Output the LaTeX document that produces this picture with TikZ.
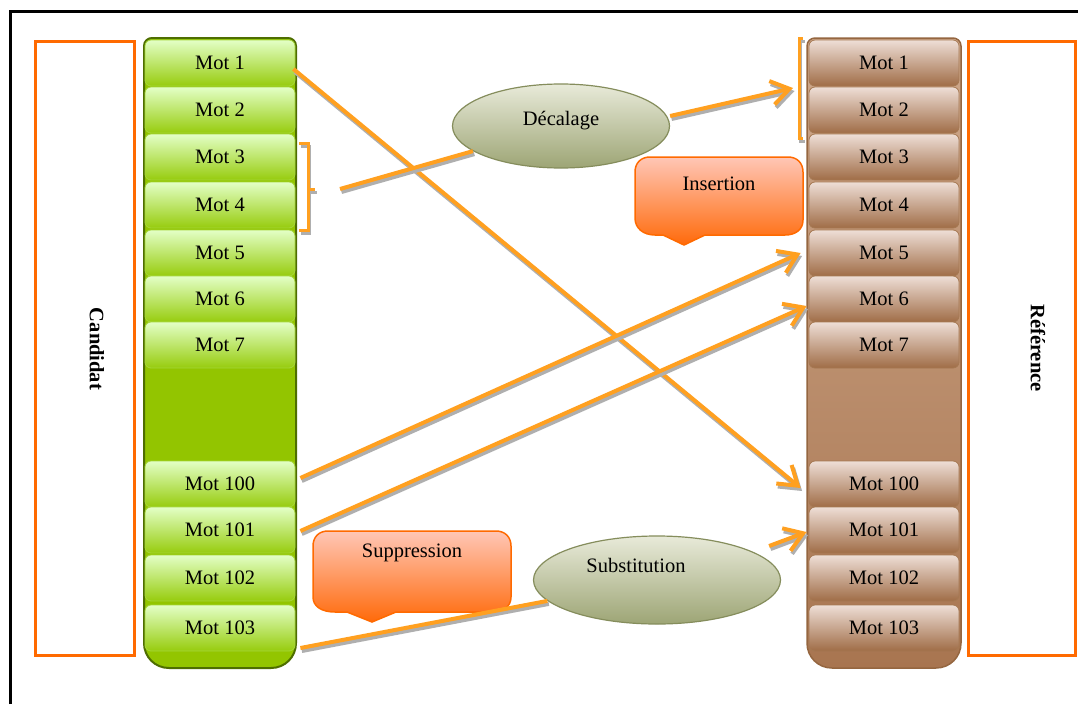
\documentclass[tikz,border=0pt]{standalone}
\usepackage{fontspec}
\setmainfont{Liberation Serif}
\usetikzlibrary{arrows.meta,shapes.geometric}
\definecolor{gtop}{HTML}{E3FFC6}
\definecolor{gmid}{HTML}{C3F06A}
\definecolor{gbot}{HTML}{97CC0E}
\definecolor{gedge}{HTML}{A6D63A}
\definecolor{gcolf}{HTML}{93C500}
\definecolor{gcold}{HTML}{4E6E00}
\definecolor{btop}{HTML}{EEDED6}
\definecolor{bmid}{HTML}{CCA68C}
\definecolor{bbot}{HTML}{A06D47}
\definecolor{bedge}{HTML}{A57852}
\definecolor{bcoltop}{HTML}{CFA98C}
\definecolor{bcolbot}{HTML}{A87550}
\definecolor{bcold}{HTML}{956640}
\definecolor{arr}{HTML}{FFA020}
\definecolor{shadowc}{HTML}{AFAFAF}
\definecolor{frameor}{HTML}{FF6A00}
\definecolor{eltop}{HTML}{E8EAD9}
\definecolor{elbot}{HTML}{9DA575}
\definecolor{eledge}{HTML}{858D5C}
\definecolor{caltop}{HTML}{FFC6B6}
\definecolor{calbot}{HTML}{FF6A0A}
\newcommand\conn[2]{%
  \draw[shadowline,#1] #2;
  \draw[orline,#1] #2;}
\begin{document}
\begin{tikzpicture}[x=1pt,y=-1pt,
  font=\fontsize{20.5}{24}\selectfont,
  gcell/.style={draw=gedge, line width=0.8pt, rounded corners=6pt,
    top color=gtop, middle color=gmid, bottom color=gbot,
    minimum width=150pt, minimum height=46pt, inner sep=0pt, text=black},
  bcell/.style={draw=bedge, line width=0.8pt, rounded corners=6pt,
    top color=btop, middle color=bmid, bottom color=bbot,
    minimum width=150pt, minimum height=46pt, inner sep=0pt, text=black},
  gcolumn/.style={draw=gcold, line width=2pt, fill=gcolf},
  bcolumn/.style={draw=bcold, line width=1.5pt, top color=bcoltop, bottom color=bcolbot},
  frameline/.style={draw=frameor, line width=3pt},
  shadowline/.style={draw=shadowc, line width=4pt, transform canvas={xshift=1.5pt,yshift=-3pt}},
  orline/.style={draw=arr, line width=4pt},
  bracketline/.style={line width=3pt},
  tip/.style={-{Straight Barb[length=18pt,width=24pt]}},
  ell/.style={ellipse, draw=eledge, line width=1.2pt, top color=eltop, bottom color=elbot, inner sep=0pt},
  callout/.style={draw=frameor, line width=1.5pt, top color=caltop, bottom color=calbot},
  sidelabel/.style={rotate=-90, font=\fontsize{20.5}{24}\selectfont\bfseries}
]
\useasboundingbox (0,0) rectangle (1078,704);
\fill[white] (0,0) rectangle (1078,704);
% outer frame
\draw[line width=3pt] (10,704) -- (10,11.5) -- (1078,11.5);
% side frames
\draw[frameline] (35,41) rectangle (134,655);
\draw[frameline] (968,41) rectangle (1075,655);
\node[sidelabel] (cand) at (97,349) {Candidat};
\node[sidelabel] (ref) at (1038,348) {Référence};
% columns
\draw[gcolumn] (144,46) .. controls (144,41) and (148,38) .. (152,38) -- (288,38) .. controls (292,38) and (296,41) .. (296,46) -- (296,643) .. controls (296,657) and (285,668) .. (271,668) -- (169,668) .. controls (155,668) and (144,657) .. (144,643) -- cycle;
\draw[bcolumn] (807,46) .. controls (807,41) and (811,38) .. (815,38) -- (953,38) .. controls (957,38) and (961,41) .. (961,46) -- (961,643) .. controls (961,657) and (950,668) .. (936,668) -- (832,668) .. controls (818,668) and (807,657) .. (807,643) -- cycle;
\foreach \n/\y in {1/63,2/110,3/157,4/205,5/253,6/299,7/345,100/484,101/530,102/578,103/628}{
  \node[gcell] (c\n) at (220,\y) {Mot \n};
  \node[bcell] (r\n) at (884,\y) {Mot \n};
}
% ellipses
\node[ell, minimum width=217pt, minimum height=84pt, text depth=16pt] (dec) at (561,126) {Décalage};
\node[ell, minimum width=247pt, minimum height=88pt, text depth=30pt] (sub) at (657,580) {Substitution\hspace*{42pt}};
% callouts
\draw[callout] (650,157) -- (788,157) .. controls (797,157) and (803,163) .. (803,172) -- (803,220) .. controls (803,230) and (795,235) .. (785,235) -- (705,235) -- (684,245) -- (663,235) -- (655,235) .. controls (643,235) and (635,228) .. (635,218) -- (635,172) .. controls (635,163) and (641,157) .. (650,157) -- cycle;
\node (ins) at (719,184) {Insertion};
\draw[callout] (328,531) -- (496,531) .. controls (505,531) and (511,537) .. (511,546) -- (511,597) .. controls (511,607) and (503,612) .. (490,612) -- (396,612) -- (372,622) -- (347,612) -- (335,612) .. controls (321,612) and (313,606) .. (313,597) -- (313,546) .. controls (313,537) and (319,531) .. (328,531) -- cycle;
\node (sup) at (412,553) {Suppression};
% brackets
\coordinate (brL) at (315,189);
\coordinate (brR) at (799,88);
\conn{bracketline}{(299,143) -- (308,143) -- (308,230) -- (299,230)}
\conn{bracketline}{(308,189) -- (brL)}
\conn{bracketline}{(803,38) -- (799,38) -- (799,138) -- (803,138)}
% connectors
\conn{tip}{([xshift=-2pt,yshift=-6pt]c1.east) -- ([xshift=-8pt,yshift=-4pt]r100.west)}
\conn{tip}{([xshift=5pt,yshift=6pt]c100.east) -- ([xshift=-8pt]r5.west)}
\conn{tip}{([xshift=5pt,yshift=-1pt]c101.east) -- ([xshift=-2pt,yshift=-7pt]r6.west)}
\conn{}{([xshift=25pt]brL) -- (dec)}
\conn{tip}{([yshift=10pt]dec.east) -- ([xshift=-6pt]brR)}
\conn{}{([xshift=5pt,yshift=-20pt]c103.east) -- (sub)}
\conn{tip}{([xshift=-12pt,yshift=34pt]sub.east) -- ([xshift=-2pt,yshift=-2pt]r101.west)}
\end{tikzpicture}
\end{document}
